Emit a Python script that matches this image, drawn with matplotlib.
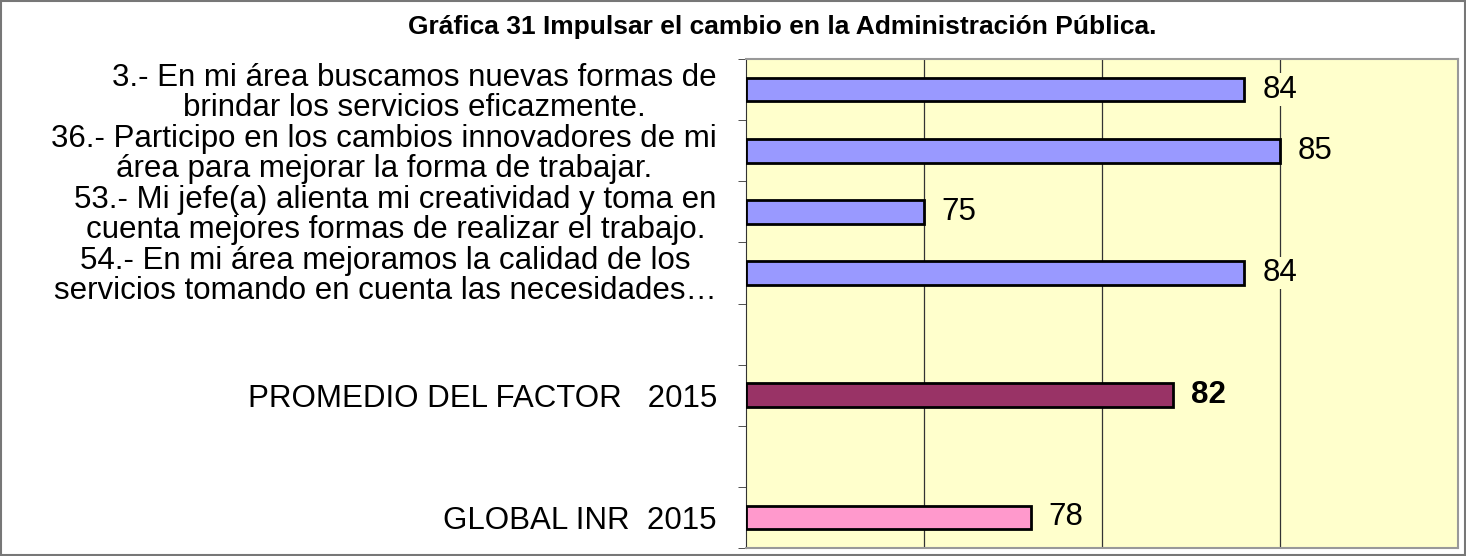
import matplotlib.pyplot as plt
from matplotlib.patches import Rectangle

plt.rcParams['font.family'] = ['Liberation Sans', 'DejaVu Sans']

# data
labels = [
    "3.- En mi área buscamos nuevas formas de\nbrindar los servicios eficazmente.",
    "36.- Participo en los cambios innovadores de mi\nárea para mejorar la forma de trabajar.",
    "53.- Mi jefe(a) alienta mi creatividad y toma en\ncuenta mejores formas de realizar el trabajo.",
    "54.- En mi área mejoramos la calidad de los\nservicios tomando en cuenta las necesidades…",
    "",
    "PROMEDIO DEL FACTOR   2015",
    "",
    "GLOBAL INR  2015",
]
values = [84, 85, 75, 84, None, 82, None, 78]
colors = ['#9999FF', '#9999FF', '#9999FF', '#9999FF', None, '#993366', None, '#FF99CC']
bold = [False, False, False, False, False, True, False, False]

fig = plt.figure(figsize=(14.66, 5.56), dpi=100)
ax = fig.add_axes([746 / 1466, 1 - 548 / 556, 712 / 1466, 489 / 556])
ax.set_facecolor('#FFFFCC')

pos = list(range(len(labels)))
for i, v in enumerate(values):
    if v is None:
        continue
    ax.barh(i, v - 70, left=70, height=0.39, color=colors[i],
            edgecolor='black', linewidth=2, zorder=3)
    ax.text(v + 0.5, i, str(v), va='center', ha='left', fontsize=22.5,
            fontweight='bold' if bold[i] else 'normal', zorder=4,
            bbox=dict(facecolor='#FFFFCC', edgecolor='none', pad=1))

ax.set_xlim(70, 90)
ax.set_ylim(len(labels) - 0.5, -0.5)
ax.set_xticks([75, 80, 85])
ax.set_xticklabels([])
ax.tick_params(axis='x', length=0)
ax.grid(axis='x', color='#333333', linewidth=0.9, zorder=1)

ax.set_yticks(pos)
ax.set_yticklabels(labels, fontsize=22.5, multialignment='center', linespacing=1.0)
ax.tick_params(axis='y', which='major', length=0, pad=21)
ax.set_yticks([p - 0.5 for p in pos] + [len(labels) - 0.5], minor=True)
ax.tick_params(axis='y', which='minor', length=6, color='#333333', direction='out')

for s in ['top', 'right', 'bottom']:
    ax.spines[s].set_color('#999999')
    ax.spines[s].set_linewidth(1.5)
ax.spines['left'].set_color('#333333')

fig.text(782 / 1466, 1 - 34 / 556, "Gráfica 31 Impulsar el cambio en la Administración Pública.",
         ha='center', va='baseline', fontsize=19, fontweight='bold')

fig.patches.append(Rectangle((0.001, 0.002), 0.998, 0.996, transform=fig.transFigure,
                             fill=False, edgecolor='#777777', linewidth=1.5))

fig.savefig('out.png', dpi=100)
